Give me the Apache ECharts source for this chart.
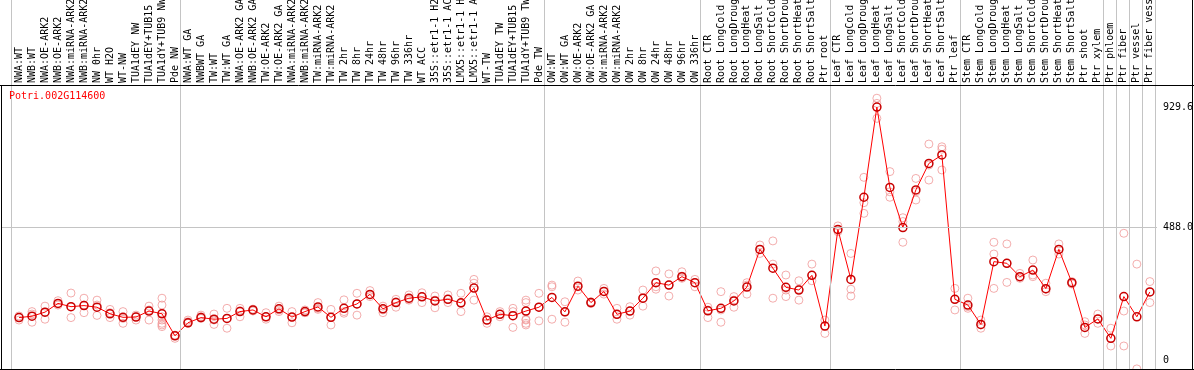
<!DOCTYPE html>
<html><head><meta charset="utf-8">
<script src="https://cdn.jsdelivr.net/npm/echarts@6/dist/echarts.min.js"></script>
<style>html,body{margin:0;padding:0;background:#fff}#c{width:1194px;height:370px}</style>
</head><body><div id="c"></div>
<script>
const geneName = 'Potri.002G114600';
const categories = [
 'NWA:WT','NWB:WT','NWA:OE-ARK2','NWB:OE-ARK2','NWA:miRNA-ARK2','NWB:miRNA-ARK2','NW 0hr','WT H2O','WT-NW','TUA1dEY NW',
 'TUA1dEY+TUB15 NW','TUA1dY+TUB9 NW','Pde NW','NWA:WT GA','NWBWT GA','TW:WT','TW:WT GA','NWA:OE-ARK2 GA','NWB:OE-ARK2 GA','TW:OE-ARK2',
 'TW:OE-ARK2 GA','NWA:miRNA-ARK2 GA','NWB:miRNA-ARK2 GA','TW:miRNA-ARK2','TW:miRNA-ARK2 GA','TW 2hr','TW 8hr','TW 24hr','TW 48hr','TW 96hr',
 'TW 336hr','WT ACC','35S::etr1-1 H2O','35S::etr1-1 ACC','LMX5::etr1-1 H2O','LMX5::etr1-1 ACC','WT-TW','TUA1dEY TW','TUA1dEY+TUB15 TW','TUA1dY+TUB9 TW',
 'Pde TW','OW:WT','OW:WT GA','OW:OE-ARK2','OW:OE-ARK2 GA','OW:miRNA-ARK2','OW:miRNA-ARK2 GA','OW 2hr','OW 8hr','OW 24hr',
 'OW 48hr','OW 96hr','OW 336hr','Root CTR','Root LongCold','Root LongDrought','Root LongHeat','Root LongSalt','Root ShortCold','Root ShortDrought',
 'Root ShortHeat','Root ShortSalt','Ptr root','Leaf CTR','Leaf LongCold','Leaf LongDrought','Leaf LongHeat','Leaf LongSalt','Leaf ShortCold','Leaf ShortDrought',
 'Leaf ShortHeat','Leaf ShortSalt','Ptr leaf','Stem CTR','Stem LongCold','Stem LongDrought','Stem LongHeat','Stem LongSalt','Stem ShortCold','Stem ShortDrought',
 'Stem ShortHeat','Stem ShortSalt','Ptr shoot','Ptr xylem','Ptr phloem','Ptr fiber','Ptr vessel','Ptr fiber vessel'
];
const means = [
 158, 163, 178, 210, 198, 202, 196, 172, 159, 160,
 182, 172, 91, 139, 158, 152, 155, 180, 186, 161,
 190, 160, 180, 197, 159, 192, 208, 243, 190, 213,
 229, 234, 219, 225, 212, 266, 149, 170, 165, 182,
 196, 232, 179, 273, 213, 254, 170, 182, 229, 286,
 277, 308, 286, 183, 192, 219, 270, 408, 339, 269,
 259, 313, 127, 481, 298, 599, 929.6, 635, 488, 626,
 723, 754, 225, 204, 133, 363, 357, 308, 332, 264,
 408, 286, 122, 153, 82, 235, 161, 252
];
const replicates = [
 [158,149,164],[180,171,141],[200,152,178],[220,204,210],[248,158,198],
 [229,176,204],[222,204,166],[188,158,176],[180,137,155],[167,149,161],
 [200,149,186],[229,204,174,161,149,137,131,125],[91,82,94],[149,137,143],[167,155,161],
 [171,149,133],[192,119,155],[192,161,183],[189,182,186],[176,152,161],
 [200,180,186],[180,139,159],[186,176,176],[213,192,188],[188,131,159],
 [223,180,174],[247,167,208],[257,235,241],[200,176,186],[225,196,216],
 [241,222,225],[249,213,235],[237,194,222],[241,213,225],[247,180,210],
 [298,284,222],[161,137,149],[180,161,170],[192,180,122],[222,213,182,152,149,137,131],
 [247,146,196],[277,271,152],[216,141,178],[292,259,271],[210,216,210],
 [265,244,254],[192,152,170],[198,167,182],[259,200,229],[329,262,271],
 [318,237,277],[326,302,310],[298,271,286],[196,158,186],[253,141,186],
 [235,196,222],[286,244,277],[424,393,408],[439,354,229],[314,235,259],
 [293,222,262],[354,293,313],[149,100,127],[494,473,479],[393,262,237],
 [672,579,540],[962,943,888],[693,619,599],[524,510,434],[668,589,619],
 [794,662,717],[784,775,699],[265,186,225],[229,192,198],[149,119,131],
 [434,391,265],[428,287,357],[320,302,308],[369,308,314],[284,253,262],
 [428,391,408],[290,281,286],[143,100,131],[171,137,153],[119,54,82],
 [467,182,54],[354,-30],[290,213,252]
];
const groupEnds = [-1, 12, 40, 52, 62, 72, 83, 84, 85, 86, 87];
const yTickValues = [0, 488.0, 929.6];
const yTickLabels = ['0', '488.0', '929.6'];
const refLineValue = 488.0;

const FONT = '"DejaVu Sans Mono", monospace';
const X_MIN = -1.385, X_MAX = 87.55;
const Y_MIN = -30.4, Y_MAX = 1010.4;

const chart = echarts.init(document.getElementById('c'), null, {renderer: 'canvas'});
const repData = [];
replicates.forEach((arr, i) => arr.forEach(v => repData.push([i, v])));
const meanData = means.map((v, i) => [i, v]);
const sepLines = groupEnds.map(g => ({xAxis: g + 0.38}));
const sepStyle = {color: '#c4c4c4', width: 1, type: 'solid'};

const option = {
  animation: false,
  backgroundColor: '#ffffff',
  title: {text: geneName, left: 9, top: 91, padding: 0,
    textStyle: {color: '#ff0000', fontFamily: FONT, fontSize: 10, fontWeight: 'normal'}},
  grid: [
    {left: 1, right: 37, top: 0, height: 85, containLabel: false, outerBoundsMode: 'none'},
    {left: 1, right: 37, top: 85, bottom: 1, containLabel: false, outerBoundsMode: 'none'}
  ],
  xAxis: [
    {gridIndex: 0, type: 'value', min: X_MIN, max: X_MAX, show: false},
    {gridIndex: 1, type: 'value', min: X_MIN, max: X_MAX, position: 'top',
     axisLine: {show: false}, axisTick: {show: false}, splitLine: {show: false},
     axisLabel: {customValues: categories.map((c, i) => i), rotate: 90, margin: 2,
       hideOverlap: false,
       color: '#000', fontFamily: FONT, fontSize: 10,
       formatter: v => categories[Math.round(v)] || ''}}
  ],
  yAxis: [
    {gridIndex: 0, type: 'value', min: 0, max: 1, show: false},
    {gridIndex: 1, type: 'value', min: Y_MIN, max: Y_MAX, position: 'right',
     axisLine: {show: false}, axisTick: {show: false}, splitLine: {show: false},
     axisLabel: {customValues: yTickValues, margin: 6, color: '#000', fontFamily: FONT,
       fontSize: 10, align: 'left', padding: [7, 0, 0, 0],
       formatter: v => { const k = yTickValues.indexOf(v); return k >= 0 ? yTickLabels[k] : ''; }}}
  ],
  graphic: [
    {type: 'line', silent: true, z: 100, shape: {x1: 0, y1: 85.5, x2: 1194, y2: 85.5}, style: {stroke: '#000', lineWidth: 1}},
    {type: 'line', silent: true, z: 100, shape: {x1: 1.5, y1: 85, x2: 1.5, y2: 370}, style: {stroke: '#000', lineWidth: 1}},
    {type: 'line', silent: true, z: 100, shape: {x1: 0, y1: 369.5, x2: 1194, y2: 369.5}, style: {stroke: '#000', lineWidth: 1}},
    {type: 'line', silent: true, z: 100, shape: {x1: 1192.5, y1: 0, x2: 1192.5, y2: 370}, style: {stroke: '#000', lineWidth: 1}}
  ],
  series: [
    {type: 'line', xAxisIndex: 0, yAxisIndex: 0, data: [[0, -5]], symbol: 'none', silent: true,
     lineStyle: {opacity: 0},
     markLine: {silent: true, symbol: 'none', label: {show: false}, lineStyle: sepStyle, data: sepLines}},
    {type: 'scatter', xAxisIndex: 1, yAxisIndex: 1, data: repData, symbol: 'circle', symbolSize: 8,
     clip: false, z: 2, silent: true,
     itemStyle: {color: 'rgba(0,0,0,0)', borderColor: '#f09898', borderWidth: 1}},
    {type: 'line', xAxisIndex: 1, yAxisIndex: 1, data: meanData, symbol: 'circle', symbolSize: 8,
     showAllSymbol: true, z: 3, silent: true,
     lineStyle: {color: '#ff0000', width: 1},
     itemStyle: {color: 'rgba(0,0,0,0)', borderColor: '#c80000', borderWidth: 1.5},
     markLine: {silent: true, symbol: 'none', label: {show: false}, lineStyle: sepStyle,
       data: sepLines.concat([{yAxis: refLineValue}])}}
  ]
};
chart.setOption(option);
</script>
</body></html>
